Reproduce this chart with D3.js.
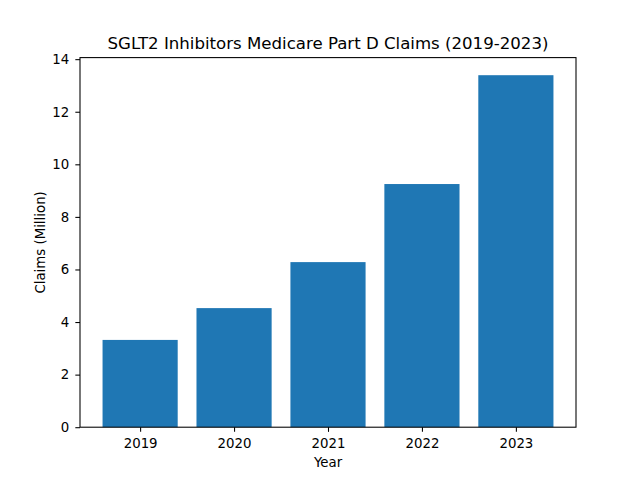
<!DOCTYPE html>
<html><head><meta charset="utf-8">
<script src="https://cdn.jsdelivr.net/npm/d3@7"></script>
<style>body{margin:0;background:#fff}svg{display:block}text{font-family:"DejaVu Sans",sans-serif;fill:#000}</style>
</head><body><svg id="c" width="640" height="480"></svg>
<script>
const years = ["2019","2020","2021","2022","2023"];
const claims = [3.32, 4.53, 6.28, 9.25, 13.39];
const yTicks = [0,2,4,6,8,10,12,14];

(function(){
const mL=80,mR=576,mT=57.6,mB=427.2;
const svg=d3.select("#c");
const ymax=d3.max(claims)*1.05;
const x=d3.scaleLinear().domain([-0.64,4.64]).range([mL,mR]);
const y=d3.scaleLinear().domain([0,ymax]).range([mB,mT]);
const bw=0.8;

svg.append("g").selectAll("rect").data(claims).join("rect")
  .attr("x",(d,i)=>x(i-bw/2)).attr("width",(d,i)=>x(i+bw/2)-x(i-bw/2))
  .attr("y",d=>y(d)).attr("height",d=>y(0)-y(d)).attr("fill","#1f77b4");

const xAxis=d3.axisBottom(x).tickValues(years.map((d,i)=>i)).tickFormat(i=>years[i]).tickSizeOuter(0).tickSize(4.67).tickPadding(6.5);
const gx=svg.append("g").attr("transform",`translate(0,${mB})`).call(xAxis);
const yAxis=d3.axisLeft(y).tickValues(yTicks).tickSizeOuter(0).tickSize(4.67).tickPadding(6.2);
const gy=svg.append("g").attr("transform",`translate(${mL},0)`).call(yAxis);
[gx,gy].forEach(g=>{g.select(".domain").remove();g.selectAll("line").attr("stroke","#000").attr("stroke-width",1.07);g.selectAll("text").attr("font-size","13.33px").attr("font-family","DejaVu Sans").attr("fill","#000");});

svg.append("rect").attr("x",mL).attr("y",mT).attr("width",mR-mL).attr("height",mB-mT)
  .attr("fill","none").attr("stroke","#000").attr("stroke-width",1.07);

svg.append("text").attr("x",(mL+mR)/2).attr("y",49.3).attr("text-anchor","middle").attr("font-size","16.6px").text("SGLT2 Inhibitors Medicare Part D Claims (2019-2023)");
svg.append("text").attr("x",(mL+mR)/2).attr("y",466.7).attr("text-anchor","middle").attr("font-size","13.33px").text("Year");
svg.append("text").attr("transform",`translate(45,${(mT+mB)/2}) rotate(-90)`).attr("text-anchor","middle").attr("font-size","13.33px").text("Claims (Million)");
})();
</script></body></html>
